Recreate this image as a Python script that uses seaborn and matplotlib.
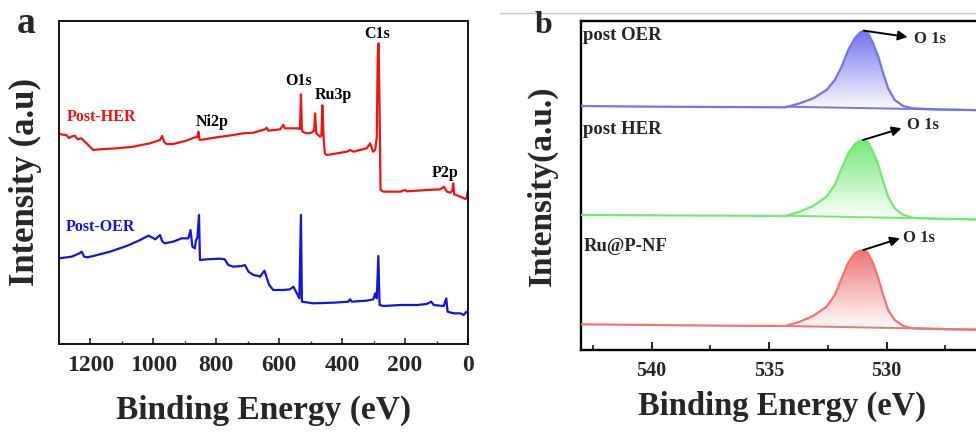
import numpy as np
import pandas as pd
import seaborn as sns
import matplotlib.pyplot as plt
from matplotlib.lines import Line2D
from matplotlib.ticker import MultipleLocator
from matplotlib.colors import LinearSegmentedColormap

# ---- panel a: survey spectra (binding energy, intensity a.u.) ----
her_be = [1300, 1290, 1277, 1268, 1261, 1250, 1240, 1229, 1218, 1210, 1202, 1191, 1171, 1117,
          1064, 1011, 979, 972, 966, 958, 937, 895, 868, 860, 857, 853, 799, 746, 714, 682,
          645, 640, 635, 597, 587, 582, 555, 539, 534, 531, 528, 526, 513, 497, 489, 486,
          482, 470, 466, 463, 459, 455, 449, 428, 385, 375, 364, 322, 311, 302, 295, 290,
          287, 284, 281, 278, 268, 215, 200, 194, 131, 88, 77, 67, 56, 50, 47, 44, 24, 8, 4, 1]
her_int = [63.2, 62.8, 62.7, 61.8, 62.2, 62.5, 61.4, 61.7, 60.7, 60.0, 59.2, 58.2, 58.4, 58.7,
           59.2, 60.2, 61.2, 62.4, 60.6, 60.0, 60.0, 61.0, 62.0, 62.1, 63.7, 61.2, 62.0, 62.7, 63.2, 63.4,
           64.4, 64.9, 64.0, 64.4, 65.7, 64.7, 64.7, 64.7, 64.5, 74.9, 64.5, 63.7, 63.2, 63.4, 64.0, 69.2,
           63.2, 62.2, 62.5, 71.6, 62.0, 57.2, 56.7, 57.0, 57.7, 58.2, 57.7, 58.7, 60.2, 57.7, 58.2, 62.0,
           86.2, 90.2, 70.0, 46.2, 45.7, 45.7, 46.2, 45.8, 46.2, 46.4, 47.2, 45.7, 45.4, 46.0, 48.2, 44.9,
           44.2, 43.5, 44.0, 45.7]

oer_be = [1300, 1260, 1235, 1228, 1220, 1210, 1191, 1138, 1085, 1042, 1016, 1005, 994, 979, 972,
          964, 937, 910, 889, 882, 876, 868, 865, 860, 855, 852, 831, 789, 773, 762, 746, 719,
          709, 698, 682, 666, 661, 647, 640, 632, 619, 587, 566, 555, 544, 536, 531, 528, 491,
          427, 380, 375, 369, 322, 301, 295, 290, 285, 281, 268, 215, 162, 131, 117, 109, 77,
          69, 65, 46, 25, 14, 5, 0]
oer_int = [25.7, 26.2, 27.2, 27.7, 26.2, 26.0, 26.4, 27.7, 29.4, 31.2, 32.5, 32.0, 31.4, 32.7, 30.8,
           30.2, 30.7, 31.7, 31.7, 34.2, 29.2, 28.7, 31.0, 32.0, 38.7, 25.2, 25.4, 25.6, 25.4, 23.7, 23.2, 23.4,
           23.7, 21.7, 20.7, 20.4, 20.2, 22.0, 20.0, 17.7, 16.2, 16.2, 16.4, 17.2, 15.2, 13.7, 38.7, 12.7, 12.2,
           12.4, 12.7, 13.4, 12.7, 13.0, 13.4, 15.2, 13.7, 26.4, 11.7, 11.4, 11.7, 11.7, 12.0, 12.7, 11.7, 11.4,
           13.7, 9.7, 9.2, 9.2, 8.7, 9.7, 9.2]

survey_peaks = ["Ni2p", "O1s", "Ru3p", "C1s", "P2p"]
survey_peak_be = [814, 537, 428, 289, 74]
survey_peak_int = [66.7, 79.0, 74.7, 92.9, 51.4]

# ---- panel b: O 1s high-resolution spectra ----
o1s_be = [543.0, 540.0, 537.0, 534.3, 533.69, 533.12, 532.55, 532.2, 531.91, 531.63, 531.35, 531.13,
          530.96, 530.78, 530.57, 530.35, 530.14, 529.93, 529.65, 529.29, 528.87, 528.0, 526.5, 525.0]
o1s_oer = [73.2, 73.0, 72.9, 72.8, 74.0, 75.5, 78.0, 81.0, 85.0, 90.0, 93.5, 95.2,
           95.8, 95.0, 92.0, 88.0, 83.0, 78.5, 75.0, 73.2, 72.5, 72.2, 72.0, 71.8]
o1s_her = [40.5, 40.4, 40.3, 40.2, 41.5, 43.2, 46.0, 49.5, 54.5, 59.0, 61.8, 62.8,
           63.0, 62.2, 59.5, 55.5, 50.5, 46.0, 42.5, 40.5, 39.7, 39.4, 39.2, 39.0]
o1s_ru = [7.7, 7.5, 7.3, 7.2, 8.5, 10.2, 13.0, 16.5, 21.5, 26.2, 29.0, 29.8,
          30.0, 29.0, 26.0, 21.5, 16.5, 12.0, 9.0, 7.2, 6.5, 6.3, 6.1, 6.0]
o1s_labels = ["post OER", "post HER", "Ru@P-NF"]
o1s_colors = ["#7474ee", "#74e874", "#f07474"]
baseline_start = [73.0, 40.3, 7.2]
baseline_end = [71.8, 39.0, 6.0]
label_int = [94.2, 66.2, 31.0]
arrow_from = [(530.96, 95.8), (531.0, 63.0), (530.98, 30.0)]
arrow_to = [(529.1, 93.9), (529.36, 66.5), (529.43, 33.5)]
o1s_text = [(528.85, 93.2), (529.12, 67.4), (529.3, 33.6)]
b_major = [540, 535, 530]
b_minor = [542.5, 537.5, 532.5, 527.5]

sns.set_style("ticks")
plt.rcParams["font.family"] = ["Liberation Serif", "DejaVu Serif"]
plt.rcParams["font.weight"] = "bold"

fig = plt.figure(figsize=(9.76, 4.34), dpi=100)

# ---------------- panel a ----------------
ax1 = fig.add_axes([59 / 976, 1 - 344 / 434, 409 / 976, 323 / 434])
sns.lineplot(x=her_be, y=her_int, ax=ax1, color="#f01414", lw=1.6, estimator=None, sort=False)
sns.lineplot(x=oer_be, y=oer_int, ax=ax1, color="#1414e0", lw=1.6, estimator=None, sort=False)
ax1.set_xlim(1300, 0)
ax1.set_ylim(0, 96.9)
ax1.xaxis.set_major_locator(MultipleLocator(200))
ax1.xaxis.set_minor_locator(MultipleLocator(100))
ax1.set_yticks([])
ax1.tick_params(axis="x", which="major", direction="in", length=4, width=1.2,
                labelsize=17, pad=8)
ax1.tick_params(axis="x", which="minor", direction="in", length=2.5, width=1.0)
for lab in ax1.get_xticklabels():
    lab.set_fontweight("bold")
for s in ax1.spines.values():
    s.set_linewidth(1.3)
    s.set_color("black")
ax1.set_xlabel("Binding Energy (eV)", fontsize=24, fontweight="bold")
ax1.xaxis.set_label_coords(0.5, -0.158)
ax1.set_ylabel("Intensity (a.u)", fontsize=25, fontweight="bold")
ax1.yaxis.set_label_coords(-0.042, 0.5)

ax1.text(1275, 68.2, "Post-HER", color="#f01414", fontsize=11.5, fontweight="bold", va="center", ha="left")
ax1.text(1279, 35.2, "Post-OER", color="#1414e0", fontsize=11.5, fontweight="bold", va="center", ha="left")
for name, be, it in zip(survey_peaks, survey_peak_be, survey_peak_int):
    ax1.text(be, it, name, fontsize=11.5, fontweight="bold", ha="center", va="center", color="black")

# ---------------- panel b ----------------
ax2 = fig.add_axes([581 / 976, 1 - 350 / 434, 423 / 976, 329 / 434])
be_arr = np.array(o1s_be)
for y, col, b0, b1 in zip([o1s_oer, o1s_her, o1s_ru], o1s_colors, baseline_start, baseline_end):
    y = np.array(y)
    sel = be_arr <= 534.3
    px = np.concatenate([be_arr[sel], [525.0, 534.3]])
    py = np.concatenate([y[sel], [b1, b0]])
    poly = ax2.fill(px, py, facecolor="none", edgecolor="none")[0]
    cmap = LinearSegmentedColormap.from_list("g", ["white", col])
    grad = np.linspace(0, 1, 256).reshape(-1, 1)
    im = ax2.imshow(grad, cmap=cmap, aspect="auto", origin="lower",
                    extent=[534.3, 525.0, min(b0, b1), y.max()], zorder=1)
    im.set_clip_path(poly)
    ax2.plot([534.3, 525.0], [b0, b1], color=col, lw=1.4, zorder=2)
    sns.lineplot(x=o1s_be, y=y, ax=ax2, color=col, lw=1.6, estimator=None, sort=False, zorder=3)

for lab, li in zip(o1s_labels, label_int):
    ax2.text(542.9, li, lab, fontsize=13.5, fontweight="bold", va="center", ha="left")
for a0, a1, t in zip(arrow_from, arrow_to, o1s_text):
    ax2.annotate("", xy=a1, xytext=a0,
                 arrowprops=dict(arrowstyle="-|>", color="black", lw=1.4, mutation_scale=14,
                                 shrinkA=0, shrinkB=0))
    ax2.text(t[0], t[1], "O 1s", fontsize=12, fontweight="bold", va="center", ha="left")

ax2.set_xlim(543, 525)
ax2.set_ylim(0, 98.7)
ax2.set_xticks(b_major)
ax2.set_xticks(b_minor, minor=True)
ax2.set_yticks([])
ax2.tick_params(axis="x", which="major", direction="in", length=6, width=1.5,
                labelsize=14.5, pad=8)
ax2.tick_params(axis="x", which="minor", direction="in", length=3.5, width=1.3)
for lab in ax2.get_xticklabels():
    lab.set_fontweight("bold")
for s in ax2.spines.values():
    s.set_linewidth(1.7)
    s.set_color("black")
ax2.set_xlabel("Binding Energy (eV)", fontsize=23.5, fontweight="bold")
ax2.xaxis.set_label_coords(0.476, -0.125)
ax2.set_ylabel("Intensity(a.u.)", fontsize=24, fontweight="bold")
ax2.yaxis.set_label_coords(-0.054, 0.5)

# panel letters and top rule
fig.text(17 / 976, 1 - 33 / 434, "a", fontsize=27, fontweight="bold", va="baseline", ha="left")
fig.text(535 / 976, 1 - 33 / 434, "b", fontsize=23, fontweight="bold", va="baseline", ha="left")
fig.add_artist(Line2D([500 / 976, 1.0], [1 - 13 / 434, 1 - 13 / 434], color="#c8c8c8", lw=1.0))

fig.savefig("out.png", dpi=100)
